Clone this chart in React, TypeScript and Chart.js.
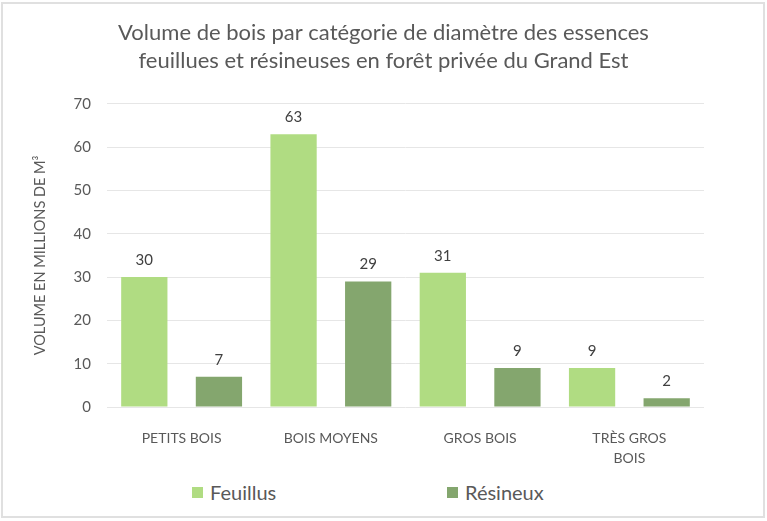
import React, { useEffect, useRef } from "react";
import { Chart, registerables } from "chart.js";

Chart.register(...registerables);

const TITLE_LINES = [
  "Volume de bois par catégorie de diamètre des essences",
  "feuillues et résineuses en forêt privée du Grand Est",
];
const CATEGORIES: (string | string[])[] = ["PETITS BOIS", "BOIS MOYENS", "GROS BOIS", ["TRÈS GROS", "BOIS"]];
const SERIES_NAMES = ["Feuillus", "Résineux"];
const FEUILLUS = [30, 63, 31, 9];
const RESINEUX = [7, 29, 9, 2];
const Y_TITLE = "VOLUME EN MILLIONS DE M³";
const Y_MIN = 0;
const Y_MAX = 70;
const Y_STEP = 10;

const COLORS = ["#B0DC82", "#84A66E"];
const TEXT = "#595959";
const FONT = "Lato, 'Open Sans', sans-serif";

const dataLabels = {
  id: "dataLabels",
  afterDatasetsDraw(chart: any) {
    const ctx = chart.ctx;
    ctx.save();
    ctx.font = `15px ${FONT}`;
    ctx.fillStyle = "#404040";
    ctx.textAlign = "center";
    ctx.textBaseline = "middle";
    chart.data.datasets.forEach((ds: any, di: number) => {
      const meta = chart.getDatasetMeta(di);
      meta.data.forEach((el: any, i: number) => {
        ctx.fillText(String(ds.data[i]), el.x, el.y - 17);
      });
    });
    ctx.restore();
  },
};

export default function App() {
  const ref = useRef<HTMLCanvasElement>(null);

  useEffect(() => {
    document.body.style.margin = "0";
    Chart.defaults.font.family = FONT;
    Chart.defaults.color = TEXT;
    const chart = new Chart(ref.current!, {
      type: "bar",
      data: {
        labels: CATEGORIES as any,
        datasets: [
          { label: SERIES_NAMES[0], data: FEUILLUS, backgroundColor: COLORS[0] },
          { label: SERIES_NAMES[1], data: RESINEUX, backgroundColor: COLORS[1] },
        ],
      },
      options: {
        responsive: false,
        animation: false,
        layout: { padding: 0 },
        datasets: { bar: { categoryPercentage: 1.0, barPercentage: 0.62 } } as any,
        plugins: {
          legend: { display: false },
          tooltip: { enabled: false },
          title: {
            display: true,
            text: TITLE_LINES,
            color: TEXT,
            font: { size: 22, weight: "normal", lineHeight: 1.27 },
            padding: { top: 19, bottom: 29 },
          },
        },
        scales: {
          x: {
            grid: { display: false },
            border: { display: false },
            ticks: { color: TEXT, font: { size: 14, lineHeight: 1.4 }, padding: 14, maxRotation: 0, autoSkip: false },
            afterFit: (s: any) => {
              s.height = 63;
            },
          },
          y: {
            min: Y_MIN,
            max: Y_MAX,
            grid: { color: "#e6e6e6", drawTicks: false },
            border: { display: false },
            ticks: { stepSize: Y_STEP, color: TEXT, font: { size: 15 }, padding: 16 },
            title: {
              display: true,
              text: Y_TITLE,
              color: TEXT,
              font: { size: 14.5 },
              padding: { top: 32, bottom: 0 },
            },
            afterFit: (s: any) => {
              s.width = 107;
            },
          },
          yRight: {
            type: "linear",
            position: "right",
            min: Y_MIN,
            max: Y_MAX,
            grid: { display: false },
            border: { display: false },
            ticks: { display: false },
            afterFit: (s: any) => {
              s.width = 63;
            },
          },
        },
      },
      plugins: [dataLabels],
    });
    return () => chart.destroy();
  }, []);

  const legendItem = (i: number, left: number) => (
    <div
      key={i}
      style={{
        position: "absolute",
        left,
        top: 478,
        height: 28,
        display: "flex",
        alignItems: "center",
        fontFamily: FONT,
        fontSize: 20,
        color: TEXT,
      }}
    >
      <span style={{ display: "inline-block", width: 11, height: 11, background: COLORS[i], marginRight: 7 }} />
      <span>{SERIES_NAMES[i]}</span>
    </div>
  );

  return (
    <div style={{ position: "relative", width: 767, height: 521, background: "#fff", overflow: "hidden" }}>
      <div
        style={{
          position: "absolute",
          left: 1,
          top: 2,
          width: 764,
          height: 516,
          border: "2px solid #e0e0e0",
          boxSizing: "border-box",
        }}
      />
      <canvas ref={ref} width={767} height={470} style={{ position: "absolute", left: 0, top: 0, width: 767, height: 470 }} />
      {legendItem(0, 192)}
      {legendItem(1, 447)}
    </div>
  );
}
